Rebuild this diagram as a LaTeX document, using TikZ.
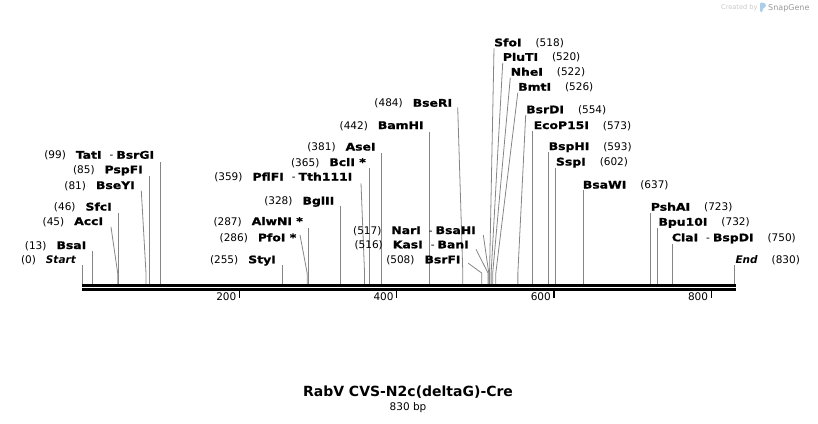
\documentclass[tikz,border=0pt]{standalone}
\usepackage{fontspec}
\setmainfont{DejaVu Sans}
\newfontfamily\enzfont{DejaVu Sans}[FakeStretch=1.18, BoldFeatures={FakeBold=1.2}]
\definecolor{cutline}{HTML}{858585}
\definecolor{logoblue}{HTML}{A9CDEB}
\newcommand\en[1]{{\enzfont\bfseries #1}}
\newcommand\sx[1]{82.3+0.7862*#1}
% vertical cut line: id, site, top y
\newcommand\cutV[3]{%
  \coordinate (#1top) at (\sx{#2},#3);
  \coordinate (#1site) at (\sx{#2},284);
  \draw[cut] (#1top) -- (#1site);}
% slanted cut line: id, site, top x, top y
\newcommand\cutS[4]{%
  \coordinate (#1top) at (#3,#4);
  \coordinate (#1bend) at (\sx{#2},273);
  \coordinate (#1site) at (\sx{#2},284);
  \draw[cut] (#1top) -- (#1bend) -- (#1site);}
\begin{document}
\begin{tikzpicture}[x=1pt,y=-1pt,
  lab/.style={inner sep=0pt, font=\fontsize{10.5}{12}\selectfont},
  lblL/.style={lab, anchor=base east},
  lblR/.style={lab, anchor=base west},
  cut/.style={draw=cutline, line width=0.8pt},
  tick/.style={draw=black, line width=1.4pt}]
\useasboundingbox (0,0) rectangle (818,423);

% watermark
\node[inner sep=0pt, anchor=base west, text=black!22, font=\fontsize{6.6}{8}\selectfont] (wm1) at (721,9.5) {Created by};
\fill[logoblue, rounded corners=1pt] (760,12) -- (760,2.5) -- (763.5,2.5) -- (766,4.5) -- (766,6.5) -- (762.6,8.8) -- (762.6,12) -- cycle;
\node[inner sep=0pt, anchor=base west, text=black!40, font=\fontsize{8}{9}\selectfont] (wm2) at (768,10) {SnapGene};

% cut lines
\cutV{Start}{0}{265}
\cutV{BsaI}{13}{251}
\cutS{AccI}{45}{111}{227}
\cutV{SfcI}{46}{212.7}
\cutS{BseYI}{81}{141.3}{190.7}
\cutV{PspFI}{85}{176}
\cutV{TatI}{99}{162}
\cutV{StyI}{255}{265}
\cutS{PfoI}{286}{300}{235}
\cutV{AlwNI}{287}{228}
\cutV{BglII}{328}{205.7}
\cutS{PflFI}{359}{361}{183.3}
\cutV{BclI}{365}{168.3}
\cutV{AseI}{381}{153.3}
\cutV{BamHI}{442}{131.7}
\cutS{BseRI}{484}{457.7}{107.3}
\cutS{BsrFI}{508}{468.3}{263.3}
\cutS{KasI}{516}{476}{249.3}
\cutS{NarI}{517}{483.3}{235}
\cutS{SfoI}{518}{494}{48.3}
\cutS{PluTI}{520}{502.7}{63}
\cutS{NheI}{522}{510.3}{77.7}
\cutS{BmtI}{526}{517.8}{92.7}
\cutS{BsrDI}{554}{525.7}{115}
\cutV{EcoPI}{573}{131}
\cutV{BspHI}{593}{152}
\cutV{SspI}{602}{168}
\cutV{BsaWI}{637}{190}
\cutV{PshAI}{723}{212.7}
\cutV{BpuI}{732}{227.7}
\cutV{ClaI}{750}{244}
\cutV{End}{830}{265}

% sequence bar
\fill[black] (82.3,284) rectangle (735.7,286.8);
\fill[black] (82.3,288.3) rectangle (735.7,291);

% ruler ticks
\foreach \v in {200,400,600,800}{
  \coordinate (tk\v a) at (\sx{\v},291);
  \coordinate (tk\v b) at (\sx{\v},298.3);
  \draw[tick] (tk\v a) -- (tk\v b);
  \node[lblL] (tl\v) at ({\sx{\v}-3},300) {\v};
}

% left labels
\node[lblL] (lStart) at (76,263.3) {(0)\hspace{10pt}{\bfseries\itshape Start}};
\node[lblL] (lBsaI) at (86.5,249) {(13)\hspace{10pt}\en{BsaI}};
\node[lblL] (lAccI) at (103.3,225) {(45)\hspace{10pt}\en{AccI}};
\node[lblL] (lSfcI) at (112,210.5) {(46)\hspace{10pt}\en{SfcI}};
\node[lblL] (lBseYI) at (135,189) {(81)\hspace{10pt}\en{BseYI}};
\node[lblL] (lPspFI) at (143,173.3) {(85)\hspace{10pt}\en{PspFI}};
\node[lblL] (lTatI) at (154.3,158.7) {(99)\hspace{10pt}\en{TatI}\hspace{8pt}-\hspace{3pt}\en{BsrGI}};
\node[lblL] (lStyI) at (276,263.3) {(255)\hspace{10pt}\en{StyI}};
\node[lblL] (lPfoI) at (296.5,241.3) {(286)\hspace{10pt}\en{PfoI *}};
\node[lblL] (lAlwNI) at (303,225) {(287)\hspace{10pt}\en{AlwNI *}};
\node[lblL] (lBglII) at (334.5,204.5) {(328)\hspace{10pt}\en{BglII}};
\node[lblL] (lPflFI) at (352.5,180.5) {(359)\hspace{10pt}\en{PflFI}\hspace{8pt}-\hspace{3pt}\en{Tth111I}};
\node[lblL] (lBclI) at (366,166) {(365)\hspace{10pt}\en{BclI *}};
\node[lblL] (lAseI) at (375.8,150.5) {(381)\hspace{10pt}\en{AseI}};
\node[lblL] (lBamHI) at (423.8,129) {(442)\hspace{10pt}\en{BamHI}};
\node[lblL] (lBseRI) at (452.3,106.7) {(484)\hspace{10pt}\en{BseRI}};
\node[lblL] (lBsrFI) at (460.7,263.3) {(508)\hspace{10pt}\en{BsrFI}};
\node[lblL] (lKasI) at (469,248.3) {(516)\hspace{10pt}\en{KasI}\hspace{8pt}-\hspace{3pt}\en{BanI}};
\node[lblL] (lNarI) at (476,234) {(517)\hspace{10pt}\en{NarI}\hspace{8pt}-\hspace{3pt}\en{BsaHI}};

% right labels
\node[lblR] (lSfoI) at (494,46.3) {\en{SfoI}\hspace{14pt}(518)};
\node[lblR] (lPluTI) at (502.7,60.8) {\en{PluTI}\hspace{14pt}(520)};
\node[lblR] (lNheI) at (510.5,75.7) {\en{NheI}\hspace{14pt}(522)};
\node[lblR] (lBmtI) at (518,90.7) {\en{BmtI}\hspace{14pt}(526)};
\node[lblR] (lBsrDI) at (526,113.3) {\en{BsrDI}\hspace{14pt}(554)};
\node[lblR] (lEcoPI) at (533.5,129) {\en{EcoP15I}\hspace{14pt}(573)};
\node[lblR] (lBspHI) at (548.5,150) {\en{BspHI}\hspace{14pt}(593)};
\node[lblR] (lSspI) at (555.8,165.5) {\en{SspI}\hspace{14pt}(602)};
\node[lblR] (lBsaWI) at (582.7,188.5) {\en{BsaWI}\hspace{14pt}(637)};
\node[lblR] (lPshAI) at (650.7,210.7) {\en{PshAI}\hspace{14pt}(723)};
\node[lblR] (lBpuI) at (658.3,225.7) {\en{Bpu10I}\hspace{14pt}(732)};
\node[lblR] (lClaI) at (671.7,241.3) {\en{ClaI}\hspace{8pt}-\hspace{3pt}\en{BspDI}\hspace{14pt}(750)};
\node[lblR] (lEnd) at (735.3,263.3) {{\bfseries\itshape End}\hspace{14pt}(830)};

% title
\node[inner sep=0pt, anchor=base, font=\fontsize{14}{16}\selectfont\bfseries] (title) at (408,396.7) {RabV CVS-N2c(deltaG)-Cre};
\node[lab, anchor=base] (len) at (408,410) {830 bp};
\end{tikzpicture}
\end{document}
